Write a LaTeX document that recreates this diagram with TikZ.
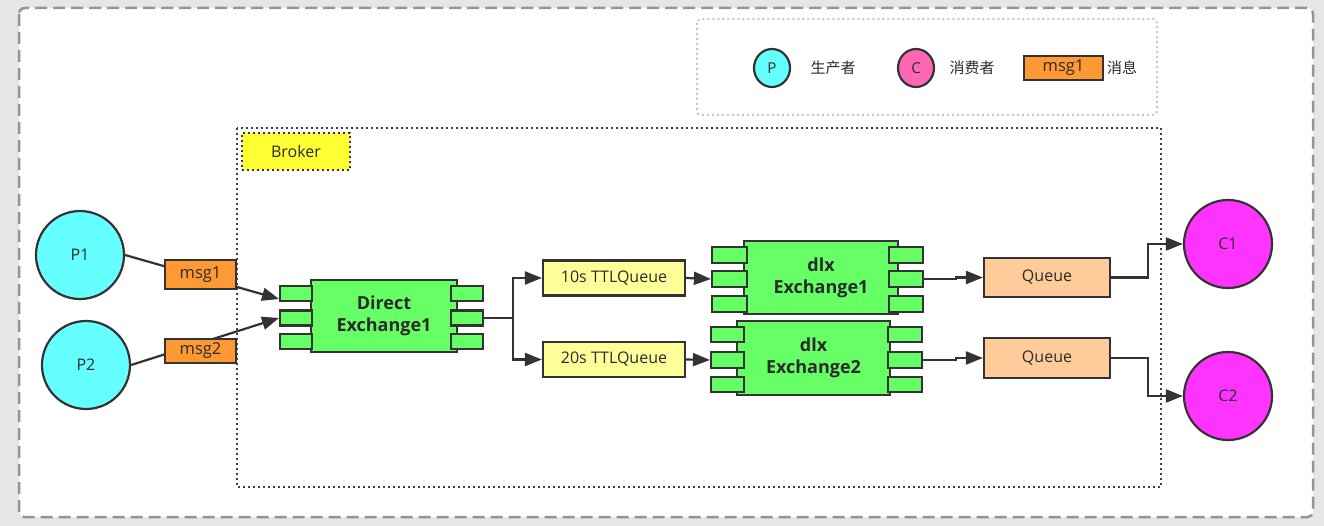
\documentclass[tikz,border=0pt]{standalone}
\usepackage{fontspec}
\setmainfont{Open Sans}
\newfontfamily\cjk{Noto Sans CJK SC}
\usetikzlibrary{arrows.meta,shapes.geometric}
\definecolor{bgc}{HTML}{E6E6E6}
\definecolor{lc}{HTML}{333333}
\definecolor{tc}{HTML}{2B2B2B}
\definecolor{pcyan}{HTML}{66FFFF}
\definecolor{cmag}{HTML}{FF33FF}
\definecolor{cpink}{HTML}{FF66B3}
\definecolor{xgreen}{HTML}{66FF66}
\definecolor{morange}{HTML}{FF9933}
\definecolor{ttly}{HTML}{FFFF99}
\definecolor{qorange}{HTML}{FFCC99}
\definecolor{bky}{HTML}{FFFF33}
\newcommand\fsz[1]{\fontsize{#1}{22}\selectfont}
\tikzset{
  base/.style={draw=lc, line width=2.2pt, text=tc, inner sep=0pt, align=center},
  prod/.style={base, circle, fill=pcyan, minimum size=88pt, font=\fsz{16}},
  cons/.style={base, circle, fill=cmag, minimum size=88pt, font=\fsz{16}},
  msgbox/.style={base, rectangle, fill=morange, font=\fsz{16.5}},
  exmain/.style={base, rectangle, fill=xgreen, font=\bfseries\fsz{18}},
  export/.style={base, rectangle, fill=xgreen},
  ttlbox/.style={base, rectangle, fill=ttly, minimum width=142pt, minimum height=35pt, font=\fsz{16}},
  qbox/.style={base, rectangle, fill=qorange, minimum width=126pt, minimum height=39pt, font=\fsz{16}},
  conn/.style={draw=lc, line width=2.2pt},
  arr/.style={conn, -{Triangle[length=17pt,width=13pt]}},
  legtext/.style={text=tc, inner sep=0pt, font=\cjk\fsz{15}},
}
\begin{document}
\begin{tikzpicture}[x=1pt,y=-1pt]
\fill[bgc] (0,0) rectangle (1324,526);
\useasboundingbox (0,0) rectangle (1324,526);
% outer frame
\draw[fill=white, draw=black!42, line width=2.5pt, dash pattern=on 12pt off 6pt, rounded corners=6pt] (19,8) rectangle (1313,517);
% legend frame
\draw[draw=black!22, line width=2pt, dash pattern=on 2pt off 3pt, rounded corners=4pt] (697,19) rectangle (1157,115);
% broker frame
\draw[draw=black!75, line width=2pt, dash pattern=on 2pt off 3pt] (237,128) rectangle (1161,487);
\node[base, fill=bky, draw=black!80, line width=2pt, dash pattern=on 2pt off 3pt, minimum width=108pt, minimum height=37pt, font=\fsz{16}] (broker) at (296,152) {Broker};

% legend
\node[base, ellipse, fill=pcyan, minimum width=36pt, minimum height=38pt, font=\fsz{15}] (lp) at (772,68) {P};
\node[legtext] (lpt) at (833,68) {生产者};
\node[base, ellipse, fill=cpink, minimum width=36pt, minimum height=38pt, font=\fsz{15}] (lcn) at (916,68) {C};
\node[legtext] (lct) at (972,68) {消费者};
\node[msgbox, minimum width=79pt, minimum height=24pt] (lm) at (1063.5,68) {msg1};
\node[legtext] (lmt) at (1122,68) {消息};

% producers and consumers
\node[prod] (p1) at (80,255) {P1};
\node[prod] (p2) at (86,365) {P2};
\node[cons] (c1) at (1228,244) {C1};
\node[cons] (c2) at (1228,396) {C2};

% direct exchange
\node[exmain, minimum width=146pt, minimum height=72pt] (dx) at (384,316) {Direct\\Exchange1};
\foreach \n/\y in {1/293.5,2/318,3/341.5}{
  \node[export, minimum width=32pt, minimum height=15pt] (dxl\n) at (296,\y) {};
  \node[export, minimum width=32pt, minimum height=15pt] (dxr\n) at (467,\y) {};
}
\coordinate (in1) at (279,299);
\coordinate (in2) at (279,318);

% ttl queues
\node[ttlbox] (q10) at (614,278) {10s TTLQueue};
\node[ttlbox] (q20) at (614,359.5) {20s TTLQueue};

% dlx exchanges
\node[exmain, minimum width=154pt, minimum height=73pt] (d1) at (821,277.5) {dlx\\Exchange1};
\foreach \n/\y in {1/255,2/279,3/304}{
  \node[export, minimum width=35pt, minimum height=16pt] (d1l\n) at (729.5,\y) {};
  \node[export, minimum width=34pt, minimum height=16pt] (d1r\n) at (906,\y) {};
}
\node[exmain, minimum width=153pt, minimum height=74pt] (d2) at (813.5,358) {dlx\\Exchange2};
\foreach \n/\y in {1/334.5,2/360,3/384.5}{
  \node[export, minimum width=33pt, minimum height=15.5pt] (d2l\n) at (727.5,\y) {};
  \node[export, minimum width=34pt, minimum height=15.5pt] (d2r\n) at (905,\y) {};
}

% queues
\node[qbox] (qa) at (1047,277.5) {Queue};
\node[qbox, minimum height=40pt] (qb) at (1047,358) {Queue};

% connectors
\draw[arr] (p1.east) -- (in1);
\draw[arr] (p2.east) -- (in2);
\node[msgbox, minimum width=71pt, minimum height=29pt] (msg1) at (200.5,274.5) {msg1};
\node[msgbox, minimum width=71pt, minimum height=24pt] (msg2) at (200.5,351) {msg2};

\draw[conn] (dxr2.east) -- ++(29,0) coordinate (br);
\draw[arr] (br) |- (q10.west);
\draw[arr] (br) |- (q20.west);
\draw[arr] (q10.east) -- (d1l2.west);
\draw[arr] (q20.east) -- (d2l2.west);
\draw[arr] (d1r2.east) -- ++(32,0) |- (qa.west);
\draw[arr] (d2r2.east) -- ++(33,0) |- (qb.west);
\draw[arr] (qa.east) -- ++(37,0) |- (c1.west);
\draw[arr] (qb.east) -- ++(37,0) |- (c2.west);
\end{tikzpicture}
\end{document}
